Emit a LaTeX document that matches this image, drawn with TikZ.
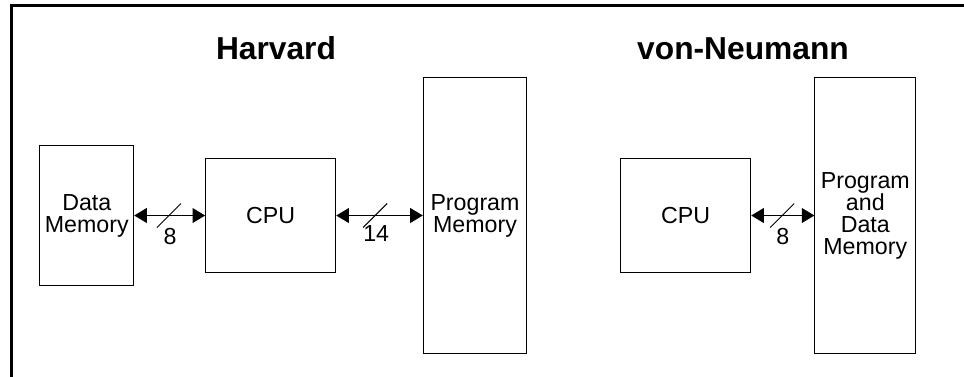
\documentclass[tikz,border=0pt]{standalone}
\usepackage{fontspec}
\setmainfont{Liberation Sans}
\usetikzlibrary{arrows.meta}
\begin{document}
\begin{tikzpicture}[x=0.75pt,y=-0.75pt,
  blk/.style={draw,line width=0.75pt,inner sep=0pt,align=center,
    font=\fontsize{17.4}{16.5}\selectfont},
  ttl/.style={font=\fontsize{23.8}{28}\selectfont\bfseries,anchor=base,inner sep=0pt},
  bus/.style={line width=1.4pt,{Triangle[length=9.5pt,width=11pt]}-{Triangle[length=9.5pt,width=11pt]}},
  slash/.style={line width=0.75pt},
  wlab/.style={font=\fontsize{17.4}{20}\selectfont,inner sep=0pt}]
\useasboundingbox (0,0) rectangle (964,376);
% outer frame
\draw[line width=1.6pt] (11.5,390) -- (11.5,5.5) -- (980,5.5);
% titles
\node[ttl] (th) at (276,59) {Harvard};
\node[ttl] (tv) at (743,59) {von-Neumann};
% Harvard
\node[blk,minimum width=70.3pt,minimum height=104.5pt] (dm) at (86.8,215.5) {Data\\Memory};
\node[blk,minimum width=97.5pt,minimum height=85.5pt] (cpu1) at (270.7,215.5) {CPU};
\node[blk,minimum width=77.5pt,minimum height=206.7pt] (pm) at (475,215.5) {Program\\Memory};
\draw[bus] (dm.east) -- coordinate[pos=0.49](m1) (cpu1.west);
\draw[slash] ([shift={(-12,12)}]m1) -- ([shift={(12,-12)}]m1);
\node[wlab] (l1) at ([shift={(1,21)}]m1) {8};
\draw[bus] (cpu1.east) -- coordinate[pos=0.45](m2) (pm.west |- cpu1.east);
\draw[slash] ([shift={(-12,12)}]m2) -- ([shift={(12,-12)}]m2);
\node[wlab] (l2) at ([shift={(1,18)}]m2) {14};
% von Neumann
\node[blk,minimum width=97.5pt,minimum height=85.5pt] (cpu2) at (685.7,215.5) {CPU};
\node[blk,minimum width=75.5pt,minimum height=207pt] (pdm) at (865.3,215.5) {Program\\and\\Data\\Memory};
\draw[bus] (cpu2.east) -- coordinate[pos=0.49](m3) (pdm.west |- cpu2.east);
\draw[slash] ([shift={(-12,12)}]m3) -- ([shift={(12,-12)}]m3);
\node[wlab] (l3) at ([shift={(0.5,21)}]m3) {8};
\end{tikzpicture}
\end{document}
